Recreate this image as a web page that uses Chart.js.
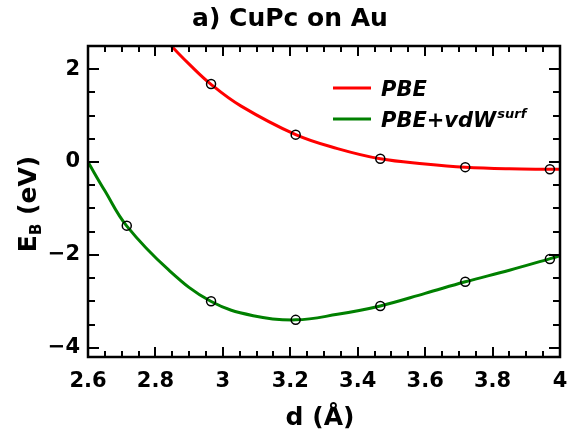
<!DOCTYPE html>
<html>
<head>
<meta charset="utf-8">
<script src="https://cdn.jsdelivr.net/npm/chart.js@4/dist/chart.umd.min.js"></script>
<style>
  body { margin: 0; background: #fff; }
  #wrap { width: 570px; height: 438px; }
</style>
</head>
<body>
<div id="wrap"><canvas id="myChart" width="570" height="438"></canvas></div>
<script>
// computed binding energies (circles)
const pointD = [2.715, 2.965, 3.216, 3.467, 3.719, 3.970];
const pbePoints = [null, 1.68, 0.59, 0.07, -0.11, -0.155];
const vdwPoints = [-1.37, -3.00, -3.40, -3.10, -2.58, -2.09];

// fitted curves
const pbeCurveD = [2.847, 2.9, 2.964, 3.053, 3.216, 3.34, 3.467, 3.6, 3.719, 3.85, 3.971, 4.0];
const pbeCurve = [2.5, 2.11, 1.68, 1.21, 0.59, 0.29, 0.07, -0.04, -0.11, -0.145, -0.155, -0.157];
const vdwCurveD = [2.6, 2.65, 2.714, 2.84, 2.964, 3.09, 3.216, 3.34, 3.467, 3.6, 3.719, 3.85, 3.971, 4.0];
const vdwCurve = [0, -0.62, -1.37, -2.33, -3.00, -3.31, -3.40, -3.28, -3.10, -2.83, -2.58, -2.33, -2.08, -2.02];

const xTicks = [2.6, 2.8, 3.0, 3.2, 3.4, 3.6, 3.8, 4.0];
const xTickLabels = ['2.6', '2.8', '3', '3.2', '3.4', '3.6', '3.8', '4'];
const yTicks = [-4, -2, 0, 2];
const yTickLabels = ['\u22124', '\u22122', '0', '2'];

const seriesNames = ['PBE', 'PBE+vdW'];
const seriesColors = ['#ff0000', '#008000'];

const FONT = "'DejaVu Sans', sans-serif";

function pairs(xs, ys) {
  return xs.map((x, i) => ({ x: x, y: ys[i] })).filter(p => p.y !== null);
}

// frame, inward ticks on all four sides, titles and legend
const decorations = {
  id: 'decorations',
  afterDatasetsDraw(chart) {
    const { ctx, chartArea: a, scales: { x, y } } = chart;
    ctx.save();
    ctx.strokeStyle = '#000';
    ctx.fillStyle = '#000';

    ctx.lineWidth = 2;
    for (let k = 0; k <= 28; k++) {
      const px = Math.round(x.getPixelForValue(2.6 + k * 0.05));
      const len = k % 4 === 0 ? 10 : 6;
      ctx.beginPath();
      ctx.moveTo(px, a.bottom); ctx.lineTo(px, a.bottom - len);
      ctx.moveTo(px, a.top); ctx.lineTo(px, a.top + len);
      ctx.stroke();
    }
    for (let k = -8; k <= 4; k++) {
      const py = Math.round(y.getPixelForValue(k * 0.5));
      const len = k % 4 === 0 ? 11 : 7;
      ctx.beginPath();
      ctx.moveTo(a.left, py); ctx.lineTo(a.left + len, py);
      ctx.moveTo(a.right, py); ctx.lineTo(a.right - len, py);
      ctx.stroke();
    }

    ctx.lineWidth = 2.5;
    ctx.strokeRect(a.left, a.top, a.right - a.left, a.bottom - a.top);

    // title
    ctx.textBaseline = 'alphabetic';
    ctx.textAlign = 'center';
    ctx.font = 'bold 25px ' + FONT;
    ctx.fillText('a) CuPc on Au', 290, 26);

    // x axis title
    ctx.fillText('d (\u00c5)', 320, 425);

    // y axis title with subscript
    ctx.save();
    ctx.translate(36, 204);
    ctx.rotate(-Math.PI / 2);
    ctx.textAlign = 'left';
    ctx.font = 'bold 25px ' + FONT;
    const wE = ctx.measureText('E').width;
    ctx.font = 'bold 15px ' + FONT;
    const wB = ctx.measureText('B').width;
    ctx.font = 'bold 25px ' + FONT;
    const wRest = ctx.measureText(' (eV)').width;
    let sx = -(wE + wB + wRest) / 2;
    ctx.fillText('E', sx, 0);
    sx += wE;
    ctx.font = 'bold 15px ' + FONT;
    ctx.fillText('B', sx, 5);
    sx += wB;
    ctx.font = 'bold 25px ' + FONT;
    ctx.fillText(' (eV)', sx, 0);
    ctx.restore();

    // legend
    ctx.textAlign = 'left';
    ctx.lineWidth = 3;
    const rows = [88, 119];
    rows.forEach((ly, i) => {
      ctx.strokeStyle = seriesColors[i];
      ctx.beginPath();
      ctx.moveTo(333, ly); ctx.lineTo(371, ly);
      ctx.stroke();
      ctx.font = 'italic bold 21px ' + FONT;
      ctx.fillText(seriesNames[i], 381, ly + 8);
    });
    ctx.font = 'italic bold 21px ' + FONT;
    const w2 = ctx.measureText(seriesNames[1]).width;
    ctx.font = 'italic bold 13px ' + FONT;
    ctx.fillText('surf', 381 + w2 + 1, rows[1] - 1);

    ctx.restore();
  }
};

const lineStyle = {
  borderWidth: 3,
  pointRadius: 0,
  fill: false,
  tension: 0.4,
  order: 2
};

const markerStyle = {
  showLine: false,
  pointRadius: 4.5,
  pointBorderWidth: 1.5,
  pointBorderColor: '#000',
  pointBackgroundColor: 'rgba(0,0,0,0)',
  order: 0
};

Chart.defaults.color = '#000';

new Chart(document.getElementById('myChart').getContext('2d'), {
  type: 'line',
  data: {
    datasets: [
      Object.assign({ label: 'PBE points', data: pairs(pointD, pbePoints) }, markerStyle),
      Object.assign({ label: 'vdW points', data: pairs(pointD, vdwPoints) }, markerStyle),
      Object.assign({ label: seriesNames[0], data: pairs(pbeCurveD, pbeCurve), borderColor: seriesColors[0] }, lineStyle),
      Object.assign({ label: seriesNames[1], data: pairs(vdwCurveD, vdwCurve), borderColor: seriesColors[1] }, lineStyle)
    ]
  },
  options: {
    responsive: false,
    animation: false,
    layout: { padding: { left: 0, top: 46, right: 10, bottom: 0 } },
    plugins: {
      legend: { display: false },
      title: { display: false },
      tooltip: { enabled: false }
    },
    scales: {
      x: {
        type: 'linear',
        min: 2.6,
        max: 4.0,
        grid: { display: false, drawTicks: false },
        border: { display: false },
        afterBuildTicks: (scale) => { scale.ticks = xTicks.map(v => ({ value: v })); },
        afterFit: (scale) => {
          scale.height = 81;
          scale.paddingLeft = 0;
          scale.paddingRight = 0;
        },
        ticks: {
          padding: 12,
          maxRotation: 0,
          font: { family: FONT, size: 21, weight: 'bold' },
          callback: (v, i) => xTickLabels[i]
        }
      },
      y: {
        type: 'linear',
        min: -4.2,
        max: 2.5,
        grid: { display: false, drawTicks: false },
        border: { display: false },
        afterBuildTicks: (scale) => { scale.ticks = yTicks.map(v => ({ value: v })); },
        afterFit: (scale) => {
          scale.width = 88;
          scale.paddingTop = 0;
          scale.paddingBottom = 0;
        },
        ticks: {
          padding: 8,
          font: { family: FONT, size: 21, weight: 'bold' },
          callback: (v, i) => yTickLabels[i]
        }
      }
    }
  },
  plugins: [decorations]
});
</script>
</body>
</html>
